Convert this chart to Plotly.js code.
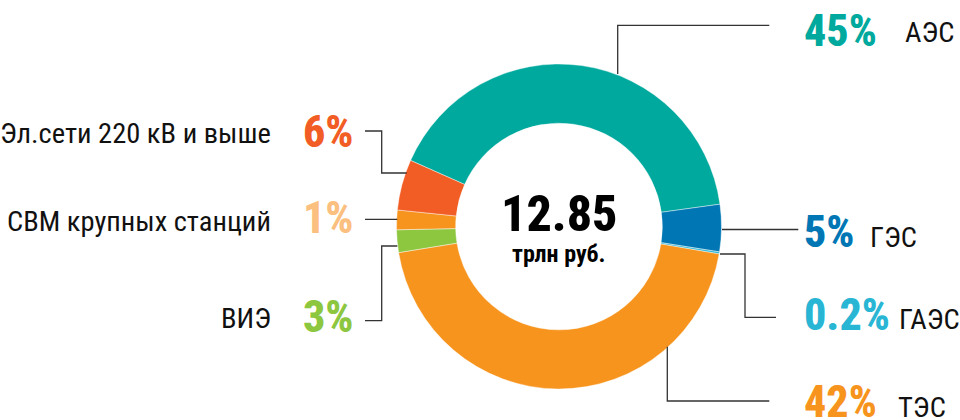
<!DOCTYPE html>
<html>
<head>
<meta charset="utf-8">
<script src="https://cdn.plot.ly/plotly-3.0.1.min.js"></script>
<style>html,body{margin:0;padding:0;background:#fff;}#chart{width:960px;height:420px;}
.main-svg text{font-stretch:75% !important;}</style>
</head>
<body>
<div id="chart"></div>
<script>
// Categories in drawing order (clockwise from the top-left)
const categories = ["АЭС", "ГЭС", "ГАЭС", "ТЭС", "ВИЭ", "СВМ крупных станций", "Эл.сети 220 кВ и выше"];
const sliceShares = [41.2, 4.7, 0.2, 44.8, 2.25, 1.95, 5.05];
// Percent labels printed on the chart
const pctLabels = ["45%", "5%", "0.2%", "42%", "3%", "1%", "6%"];
// Total in the centre
const totalValue = "12.85";
const totalUnit = "трлн руб.";

const sliceColors = ["#00A99D", "#0077B4", "#29B6D4", "#F7941E", "#8DC63F", "#F7941E", "#F15D24"];
const labelColors = ["#00A99D", "#0077B4", "#29B6D4", "#F7941E", "#8DC63F", "#FBBF80", "#F15D24"];

const W = 960, H = 420;
const FONT = "'Roboto Condensed', 'Liberation Sans Narrow', Roboto, sans-serif";
const px = x => x / W;
const py = y => 1 - y / H;

// pie geometry (pixels)
const cx = 559, cy = 226.5, R = 162.5;

const trace = {
  type: "pie",
  labels: categories,
  values: sliceShares,
  sort: false,
  direction: "clockwise",
  rotation: -66,
  hole: 0.636,
  textinfo: "none",
  hoverinfo: "label+text",
  text: pctLabels,
  marker: { colors: sliceColors, line: { color: "rgba(255,255,255,0.7)", width: 0.6 } },
  domain: { x: [px(cx - R), px(cx + R)], y: [py(cy + R), py(cy - R)] },
  showlegend: false
};

// label placement (pixels): [pctX, pctY, pctAnchor, nameX, nameY, nameAnchor]
const place = [
  [802, 31.5, "left", 903, 33, "left"],
  [802, 232, "left", 868, 237, "left"],
  [802, 315, "left", 897, 319, "left"],
  [802, 402, "left", 896, 407, "left"],
  [356, 316.7, "right", 273, 318.7, "right"],
  [356, 218, "right", 273, 221, "right"],
  [356, 132, "right", 273, 133, "right"]
];

const annotations = [];
categories.forEach((c, i) => {
  const p = place[i];
  annotations.push({
    xref: "paper", yref: "paper", x: px(p[0]), y: py(p[1]),
    xanchor: p[2], yanchor: "middle", showarrow: false,
    text: pctLabels[i],
    font: { family: FONT, size: 44, weight: 800, color: labelColors[i] }
  });
  annotations.push({
    xref: "paper", yref: "paper", x: px(p[3]), y: py(p[4]),
    xanchor: p[5], yanchor: "middle", showarrow: false,
    text: c,
    font: { family: FONT, size: 28.5, color: "#111111" }
  });
});
annotations.push({
  xref: "paper", yref: "paper", x: px(cx), y: py(213.5),
  xanchor: "center", yanchor: "middle", showarrow: false,
  text: totalValue,
  font: { family: FONT, size: 50, weight: 800, color: "#000000" }
});
annotations.push({
  xref: "paper", yref: "paper", x: px(cx), y: py(254),
  xanchor: "center", yanchor: "middle", showarrow: false,
  text: totalUnit,
  font: { family: FONT, size: 24, weight: 700, color: "#000000" }
});

// leader lines (pixel polylines)
const leaders = [
  [[617.7, 74], [617.7, 25.3], [769.3, 25.3]],
  [[722, 229.5], [798.3, 229.5]],
  [[720, 254], [745, 254], [745, 317.3], [776, 317.3]],
  [[667.3, 346.7], [667.3, 401], [769.3, 401]],
  [[397.3, 246], [381.7, 246], [381.7, 320.7], [365, 320.7]],
  [[397.3, 219.3], [365, 219.3]],
  [[406.7, 173], [381.7, 173], [381.7, 131], [365, 131]]
];
const shapes = leaders.map(pts => ({
  type: "path", xref: "paper", yref: "paper",
  path: pts.map((p, k) => (k ? "L" : "M") + px(p[0]) + "," + py(p[1])).join(" "),
  line: { color: "#333333", width: 1.3 }
}));

const layout = {
  width: W, height: H,
  margin: { l: 0, r: 0, t: 0, b: 0 },
  paper_bgcolor: "#ffffff",
  plot_bgcolor: "#ffffff",
  annotations: annotations,
  shapes: shapes,
  showlegend: false
};

Plotly.newPlot("chart", [trace], layout, { displayModeBar: false, staticPlot: true });
</script>
</body>
</html>
